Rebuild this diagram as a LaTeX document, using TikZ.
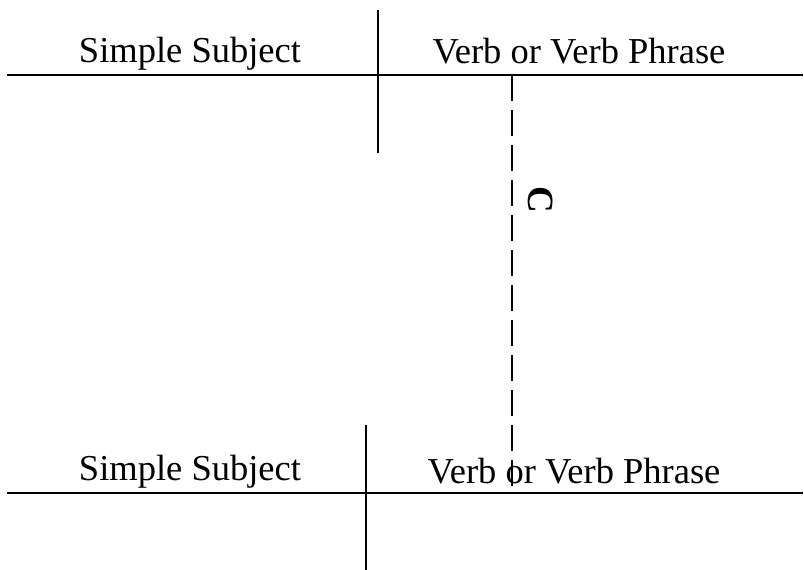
\documentclass[tikz,border=0pt]{standalone}
\usepackage{fontspec}
\setmainfont{Liberation Serif}
\begin{document}
\begin{tikzpicture}[x=1pt,y=-1pt,
  rule/.style={line width=2pt,line cap=butt},
  dashrule/.style={line width=2pt,dash pattern=on 26pt off 9pt},
  lbl/.style={inner sep=0pt,anchor=base,font=\fontsize{36.5}{40}\selectfont}]
\useasboundingbox (0,0) rectangle (804,570);
% top diagram
\coordinate (tl) at (7,75); \coordinate (tr) at (803,75);
\coordinate (tvt) at (378,10); \coordinate (tvb) at (378,153);
\draw[rule] (tl) -- (tr);
\draw[rule] (tvt) -- (tvb);
\node[lbl] (ts) at (190,62) {Simple Subject};
\node[lbl] (tv) at (579,63) {Verb or Verb Phrase};
% bottom diagram
\coordinate (bl) at (7,493); \coordinate (br) at (803,493);
\coordinate (bvt) at (366,425); \coordinate (bvb) at (366,570);
\draw[rule] (bl) -- (br);
\draw[rule] (bvt) -- (bvb);
\node[lbl] (bs) at (190,480) {Simple Subject};
\node[lbl] (bv) at (574,483) {Verb or Verb Phrase};
% connector
\coordinate (dt) at (512,75); \coordinate (db) at (512,493);
\draw[dashrule] (dt) -- (db);
\node[inner sep=0pt,rotate=-90,font=\fontsize{37}{40}\selectfont\bfseries] (c) at (541,200) {C};
\end{tikzpicture}
\end{document}
